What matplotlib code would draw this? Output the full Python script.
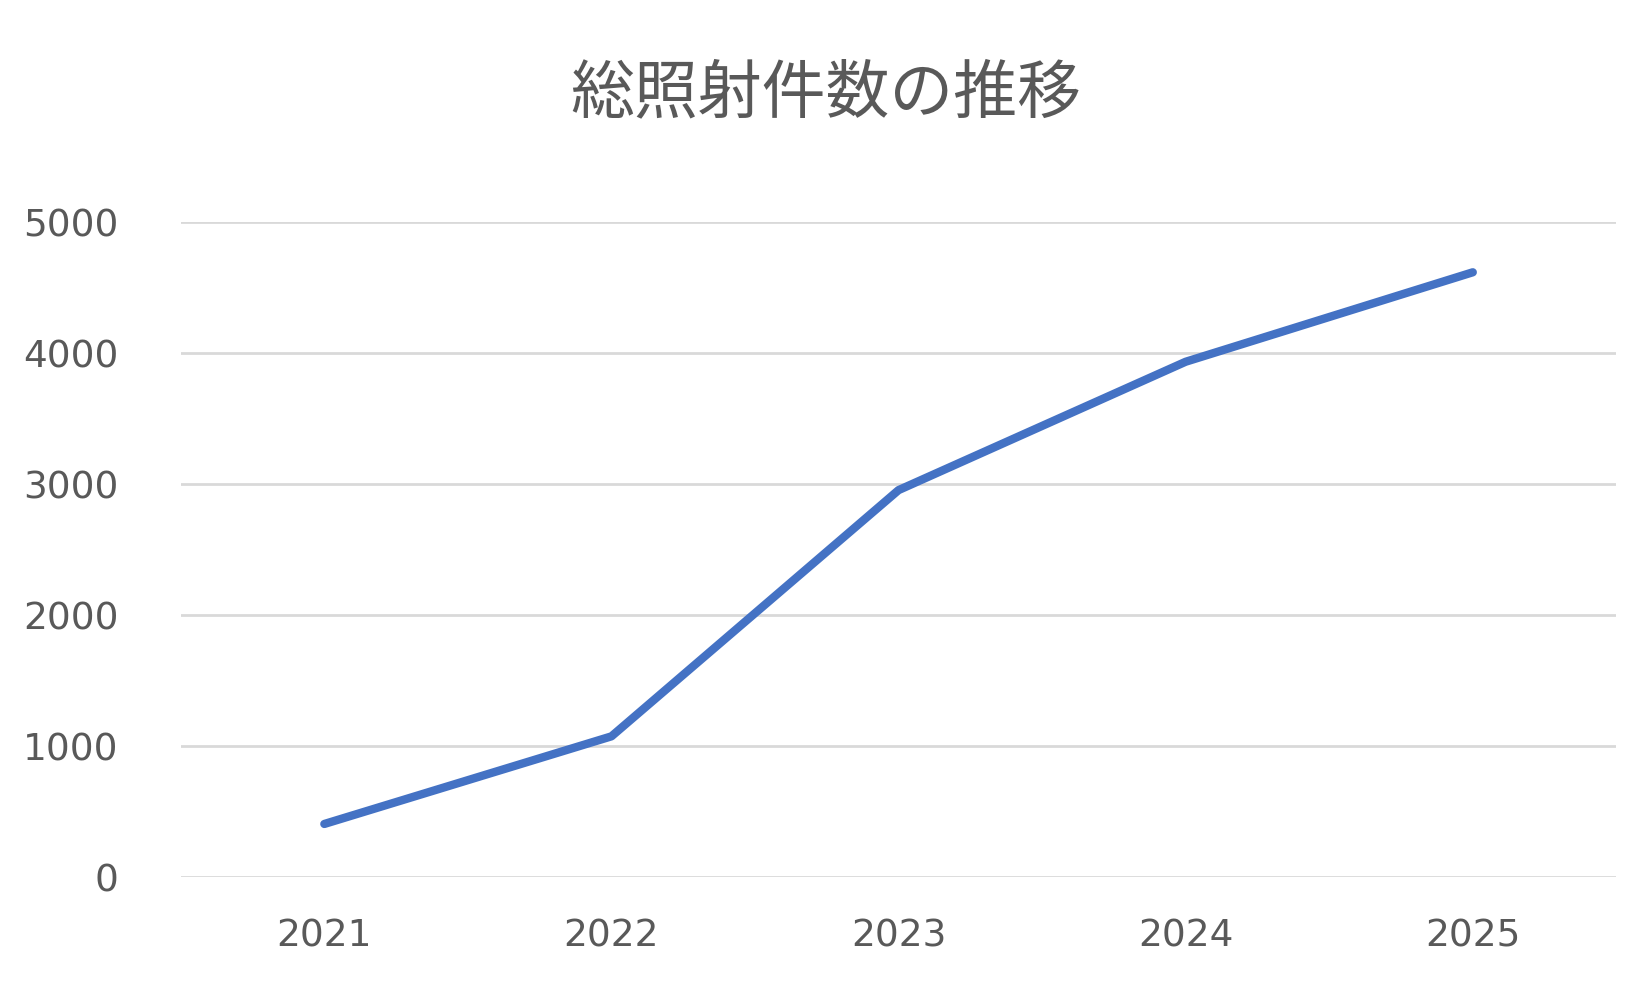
import matplotlib
matplotlib.use("Agg")
import matplotlib.pyplot as plt

plt.rcParams['font.family'] = ['DejaVu Sans', 'Noto Sans CJK JP']

years = ["2021", "2022", "2023", "2024", "2025"]
counts = [406, 1075, 2955, 3935, 4618]
yticks = [0, 1000, 2000, 3000, 4000, 5000]
title = "総照射件数の推移"

fig = plt.figure(figsize=(16.51, 9.9), dpi=100)
ax = fig.add_axes([0.1095, 0.114, 0.8695, 0.6615])
x = list(range(len(years)))
ax.plot(x, counts, color="#4472C4", linewidth=6, solid_capstyle="round", solid_joinstyle="round", zorder=3)
ax.set_xlim(-0.5, len(years) - 0.5)
ax.set_ylim(0, 5000)
ax.set_yticks(yticks)
ax.set_yticklabels([str(v) for v in yticks])
ax.set_xticks(x)
ax.set_xticklabels(years)
ax.grid(axis="y", color="#D9D9D9", linewidth=2)
ax.set_axisbelow(True)
for s in ax.spines.values():
    s.set_visible(False)
ax.tick_params(length=0, labelsize=27, labelcolor="#595959")
ax.tick_params(axis="y", pad=45)
ax.tick_params(axis="x", pad=30)
fig.text(0.5, 0.905, title, ha="center", va="center", fontsize=46, color="#595959",
         family=['Noto Sans CJK JP', 'DejaVu Sans'])
fig.savefig("out.png", dpi=100)
